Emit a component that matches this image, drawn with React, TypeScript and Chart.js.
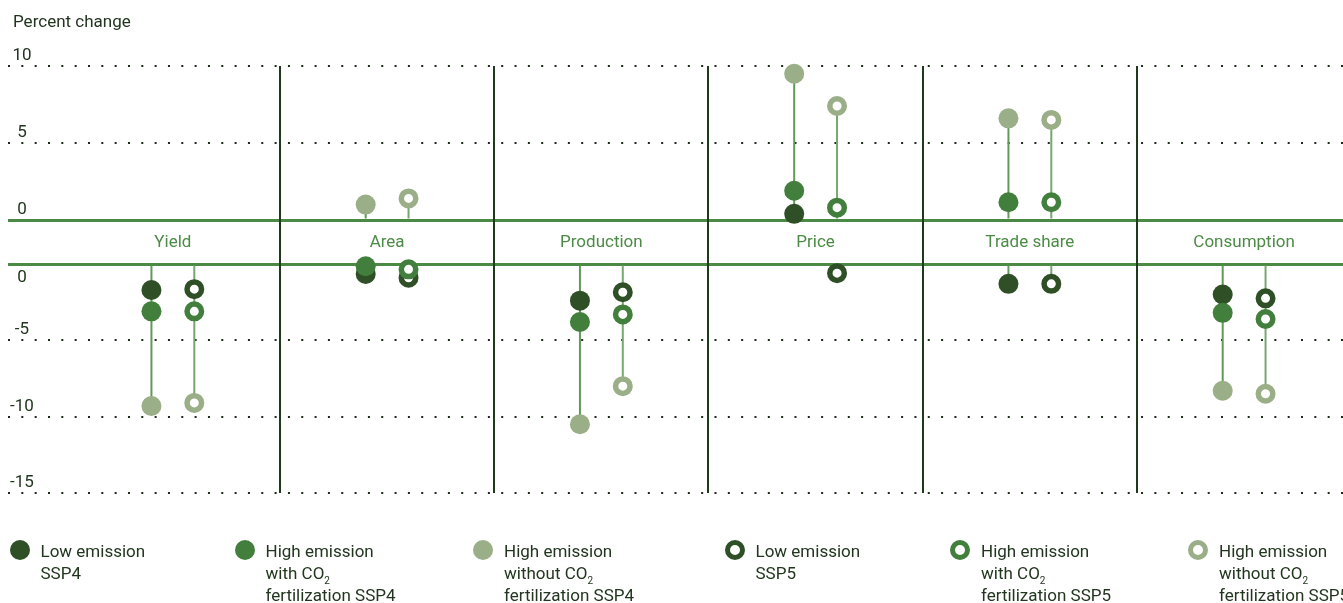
import React, { useEffect, useRef } from 'react';
import { Chart, registerables } from 'chart.js';

Chart.register(...registerables);

// ---------------- data ----------------
const categories = ['Yield', 'Area', 'Production', 'Price', 'Trade share', 'Consumption'];

const lowSSP4 = [-1.7, -0.65, -2.4, 0.4, -1.3, -2.0];
const highCO2SSP4 = [-3.1, -0.15, -3.8, 1.9, 1.15, -3.2];
const highNoCO2SSP4 = [-9.3, 1.0, -10.5, 9.5, 6.6, -8.3];
const lowSSP5 = [-1.65, -0.9, -1.85, -0.6, -1.3, -2.25];
const highCO2SSP5 = [-3.1, -0.35, -3.3, 0.8, 1.15, -3.6];
const highNoCO2SSP5 = [-9.1, 1.4, -8.0, 7.4, 6.5, -8.5];

const upperTicks = [0, 5, 10];
const lowerTicks = [0, -5, -10, -15];
const yAxisTitle = 'Percent change';

const legendLabels = [
  ['Low emission', 'SSP4'],
  ['High emission', 'with CO2', 'fertilization SSP4'],
  ['High emission', 'without CO2', 'fertilization SSP4'],
  ['Low emission', 'SSP5'],
  ['High emission', 'with CO2', 'fertilization SSP5'],
  ['High emission', 'without CO2', 'fertilization SSP5'],
];

// ---------------- style ----------------
const W = 1343;
const H = 603;
const DARK = '#2f4f27';
const MID = '#427f3c';
const LIGHT = '#9aae87';
const STEM4 = '#5f9a58';
const STEM5 = '#77a76f';
const ZERO = '#4b8a45';
const SEP = '#1d3a1b';
const DOT = '#1c2a1a';
const TEXT = '#22361f';
const CAT = '#4b8b45';
const FONT = 'Roboto, "Noto Sans", sans-serif';
const OFF = 0.1;
const X_MIN = -0.7695;
const X_MAX = 5.4615;
const LEGEND_X = [19.5, 244.5, 483, 734.5, 960, 1198];

type S = { values: number[]; color: string; ring: boolean; side: number; order: number };
const seriesList: S[] = [
  { values: lowSSP4, color: DARK, ring: false, side: -1, order: 3 },
  { values: highCO2SSP4, color: MID, ring: false, side: -1, order: 2 },
  { values: highNoCO2SSP4, color: LIGHT, ring: false, side: -1, order: 1 },
  { values: lowSSP5, color: DARK, ring: true, side: 1, order: 3 },
  { values: highCO2SSP5, color: MID, ring: true, side: 1, order: 2 },
  { values: highNoCO2SSP5, color: LIGHT, ring: true, side: 1, order: 1 },
];

const panels = [
  { id: 'yTop', test: (v: number) => v >= 0, ext: (a: number[]) => Math.max(...a) },
  { id: 'yBot', test: (v: number) => v < 0, ext: (a: number[]) => Math.min(...a) },
];

function buildDatasets() {
  const datasets: any[] = [];
  for (const side of [-1, 1]) {
    const group = seriesList.filter((s) => s.side === side);
    for (const p of panels) {
      const data = categories
        .map((_, i) => {
          const vals = group.map((s) => s.values[i]).filter(p.test);
          return vals.length ? { x: i + side * OFF, y: [0, p.ext(vals)] } : null;
        })
        .filter(Boolean);
      datasets.push({
        type: 'bar',
        data,
        xAxisID: 'x',
        yAxisID: p.id,
        backgroundColor: side < 0 ? STEM4 : STEM5,
        barThickness: 2,
        grouped: false,
        borderWidth: 0,
        borderSkipped: false,
        inflateAmount: 0,
        order: 10,
        clip: false,
      });
    }
  }
  for (const s of seriesList) {
    for (const p of panels) {
      const data = s.values
        .map((v, i) => ({ x: i + s.side * OFF, y: v }))
        .filter((pt) => p.test(pt.y));
      const r = s.ring ? 7.25 : 10;
      datasets.push({
        type: 'scatter',
        data,
        xAxisID: 'x',
        yAxisID: p.id,
        pointRadius: r,
        pointHoverRadius: r,
        pointBorderWidth: s.ring ? 5.5 : 0,
        pointHoverBorderWidth: s.ring ? 5.5 : 0,
        pointBackgroundColor: s.ring ? '#ffffff' : s.color,
        pointBorderColor: s.color,
        showLine: false,
        clip: false,
        order: s.order,
      });
    }
  }
  return datasets;
}

const yGrid = {
  color: (c: any) => (c.tick && c.tick.value === 0 ? ZERO : DOT),
  lineWidth: (c: any) => (c.tick && c.tick.value === 0 ? 3 : 2),
  drawTicks: false,
  z: -1,
};
const yBorder = {
  display: false,
  dash: (c: any) => (c.tick && c.tick.value !== 0 ? [2, 11.33] : []),
};

const textPlugin = {
  id: 'texts',
  afterDraw(chart: any) {
    const { ctx, scales } = chart;
    ctx.save();
    ctx.font = `17px ${FONT}`;
    ctx.textBaseline = 'alphabetic';
    ctx.fillStyle = TEXT;
    ctx.textAlign = 'left';
    ctx.fillText(yAxisTitle, 13, 27);
    ctx.textAlign = 'center';
    upperTicks.forEach((v) => ctx.fillText(String(v), 22, scales.yTop.getPixelForValue(v) - 6));
    lowerTicks.forEach((v) =>
      ctx.fillText(String(v), 22, scales.yBot.getPixelForValue(v) + (v === 0 ? 18 : -6))
    );
    ctx.fillStyle = CAT;
    const yb = (scales.yMid.top + scales.yMid.bottom) / 2 + 5;
    categories.forEach((c, i) => ctx.fillText(c, scales.x.getPixelForValue(i), yb));
    ctx.restore();
  },
};

function renderLine(ln: string) {
  const idx = ln.indexOf('CO2');
  if (idx < 0) return ln;
  return (
    <>
      {ln.slice(0, idx)}CO
      <span style={{ fontSize: 10, lineHeight: 0, position: 'relative', top: 5 }}>2</span>
      {ln.slice(idx + 3)}
    </>
  );
}

export default function App() {
  const ref = useRef<HTMLCanvasElement | null>(null);

  useEffect(() => {
    if (!ref.current) return;
    const chart = new Chart(ref.current, {
      type: 'scatter',
      data: { datasets: buildDatasets() },
      options: {
        animation: false,
        responsive: false,
        devicePixelRatio: 1,
        events: [],
        layout: { autoPadding: false, padding: { left: 8, top: 66, right: 0, bottom: 110 } },
        plugins: { legend: { display: false }, tooltip: { enabled: false } },
        scales: {
          x: {
            type: 'linear',
            position: 'bottom',
            min: X_MIN,
            max: X_MAX,
            offset: false,
            afterBuildTicks: (sc: any) => {
              sc.ticks = categories.slice(1).map((_, i) => ({ value: i + 0.5 }));
            },
            ticks: { display: false },
            grid: { color: SEP, lineWidth: 2, drawTicks: false, offset: false, z: 0 },
            border: { display: false },
          },
          yTop: {
            type: 'linear',
            position: 'left',
            stack: 'v',
            stackWeight: 154,
            weight: 3,
            min: 0,
            max: 10,
            afterBuildTicks: (sc: any) => {
              sc.ticks = upperTicks.map((v) => ({ value: v }));
            },
            ticks: { display: false },
            grid: yGrid,
            border: yBorder,
          },
          yMid: {
            type: 'linear',
            position: 'left',
            stack: 'v',
            stackWeight: 44,
            weight: 2,
            min: 0,
            max: 1,
            ticks: { display: false },
            grid: { display: false, drawTicks: false },
            border: { display: false },
          },
          yBot: {
            type: 'linear',
            position: 'left',
            stack: 'v',
            stackWeight: 229,
            weight: 1,
            min: -15,
            max: 0,
            afterBuildTicks: (sc: any) => {
              sc.ticks = lowerTicks.map((v) => ({ value: v }));
            },
            ticks: { display: false },
            grid: yGrid,
            border: yBorder,
          },
        },
      } as any,
      plugins: [textPlugin],
    });
    return () => chart.destroy();
  }, []);

  return (
    <div
      style={{
        position: 'absolute',
        left: 0,
        top: 0,
        width: W,
        height: H,
        overflow: 'hidden',
        fontFamily: FONT,
        background: '#ffffff',
      }}
    >
      <canvas ref={ref} width={W} height={H} style={{ display: 'block', width: W, height: H }} />
      {legendLabels.map((lines, k) => {
        const s = seriesList[k];
        const cx = LEGEND_X[k];
        return (
          <React.Fragment key={k}>
            <div
              style={{
                position: 'absolute',
                left: cx - 10,
                top: 539.5,
                width: 20,
                height: 20,
                borderRadius: '50%',
                boxSizing: 'border-box',
                background: s.ring ? '#ffffff' : s.color,
                border: s.ring ? `5.5px solid ${s.color}` : 'none',
              }}
            />
            <div
              style={{
                position: 'absolute',
                left: cx + 21,
                top: 540,
                fontSize: 17,
                lineHeight: '22px',
                color: TEXT,
                whiteSpace: 'nowrap',
              }}
            >
              {lines.map((ln, j) => (
                <div key={j} style={{ height: 22 }}>
                  {renderLine(ln)}
                </div>
              ))}
            </div>
          </React.Fragment>
        );
      })}
    </div>
  );
}
